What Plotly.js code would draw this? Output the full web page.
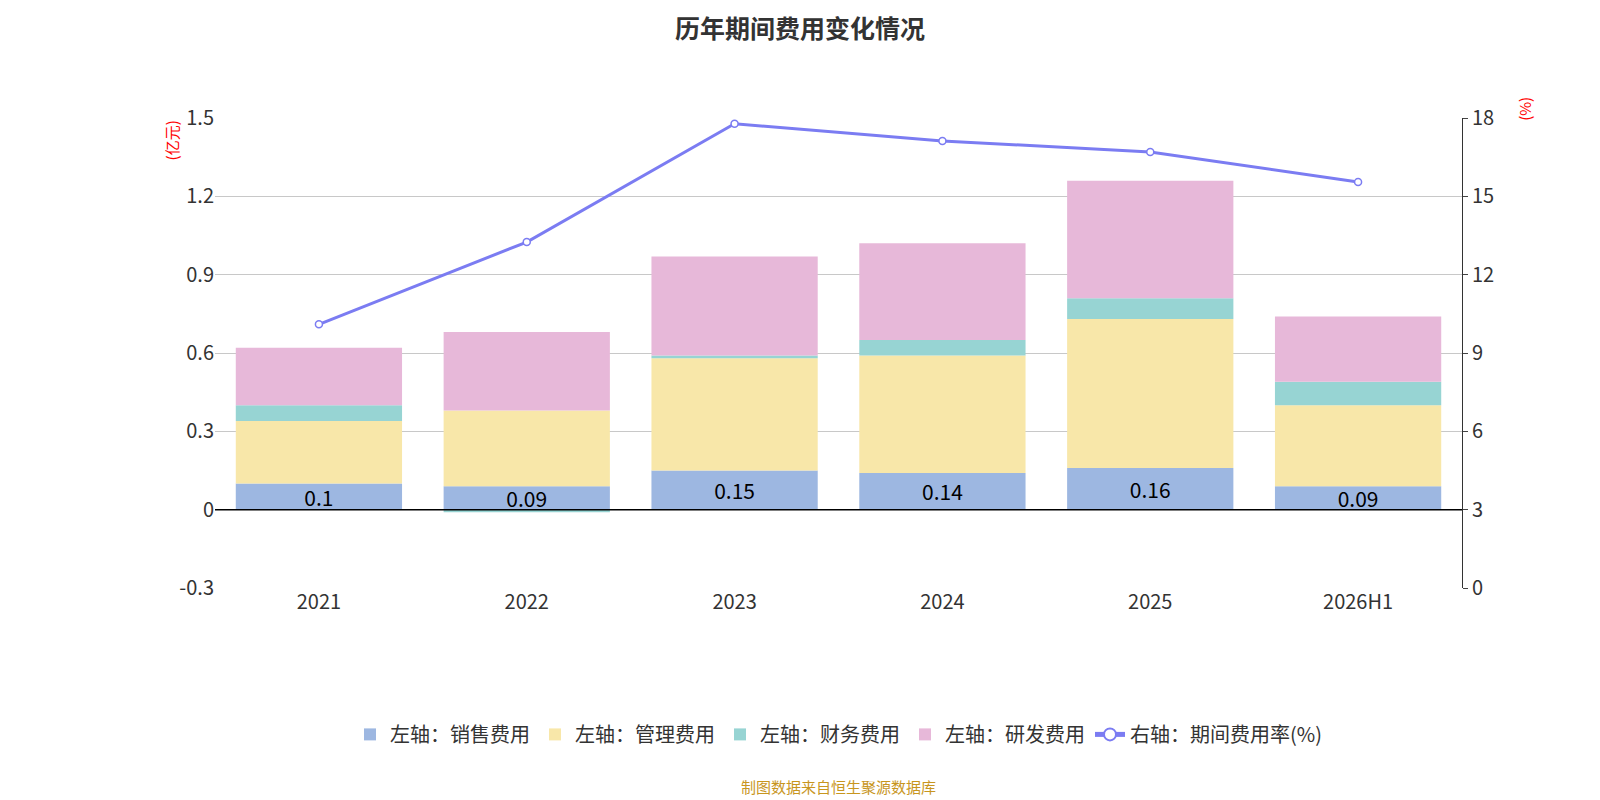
<!DOCTYPE html>
<html><head><meta charset="utf-8">
<script src="https://cdn.plot.ly/plotly-3.0.1.min.js"></script>
<style>body{margin:0}#c{width:1600px;height:800px}</style>
</head><body><div id="c"></div>
<script>
var years = ['2021', '2022', '2023', '2024', '2025', '2026H1'];
var sales = [0.10, 0.09, 0.15, 0.14, 0.16, 0.09];
var admin = [0.24, 0.29, 0.43, 0.45, 0.57, 0.31];
var finance = [0.06, -0.01, 0.01, 0.06, 0.08, 0.09];
var rnd = [0.22, 0.30, 0.38, 0.37, 0.45, 0.25];
var rate = [10.1, 13.25, 17.78, 17.12, 16.7, 15.55];

var font = 'Noto Sans CJK SC, Noto Sans, sans-serif';
function bar(name, y, color, withText) {
  var t = {type: 'bar', name: name, x: years, y: y, marker: {color: color}, width: 0.8, yaxis: 'y'};
  if (withText) {
    t.text = y.map(String);
    t.textposition = 'inside';
    t.insidetextanchor = 'middle';
    t.textangle = 0;
    t.constraintext = 'none';
    t.textfont = {size: 21, color: '#000'};
  }
  return t;
}
var data = [
  bar('左轴：销售费用', sales, '#9db7e1', true),
  bar('左轴：管理费用', admin, '#f8e7a9', false),
  bar('左轴：财务费用', finance, '#97d4d3', false),
  bar('左轴：研发费用', rnd, '#e7b8d9', false),
  {type: 'scatter', mode: 'lines+markers', name: '右轴：期间费用率(%)', x: years, y: rate, yaxis: 'y2',
   line: {color: '#7b7cf2', width: 3}, marker: {size: 7, color: '#fff', line: {color: '#7b7cf2', width: 1.5}}}
];
var layout = {
  width: 1600, height: 800,
  font: {family: font, size: 19, color: '#333'},
  title: {text: '<b>历年期间费用变化情况</b>', x: 0.5, y: 0.975, font: {size: 25, color: '#333'}},
  margin: {l: 215, r: 138, t: 118, b: 212},
  barmode: 'relative', bargap: 0.2,
  showlegend: true,
  legend: {orientation: 'h', x: 0.5, xanchor: 'center', y: -0.27, font: {size: 20}, itemsizing: 'constant'},
  xaxis: {type: 'category', showgrid: false, ticks: '', tickfont: {size: 20}},
  yaxis: {range: [-0.3, 1.5], gridcolor: '#c8c8c8', zeroline: false, tickfont: {size: 20},
          tickvals: [-0.3, 0, 0.3, 0.6, 0.9, 1.2, 1.5], ticktext: ['-0.3', '0', '0.3', '0.6', '0.9', '1.2', '1.5']},
  yaxis2: {range: [0, 18], dtick: 3, overlaying: 'y', side: 'right', showgrid: false, zeroline: false,
           showline: true, linecolor: '#333', ticks: 'outside', tickfont: {size: 20}},
  shapes: [{type: 'line', xref: 'paper', yref: 'y', x0: 0, x1: 1, y0: 0, y1: 0, line: {color: '#000', width: 1.5}}],
  annotations: [
    {text: '(亿元)', xref: 'paper', yref: 'paper', x: -0.045, y: 1.0, textangle: -90, showarrow: false, font: {size: 15, color: 'red'}, yanchor: 'top'},
    {text: '(%)', xref: 'paper', yref: 'paper', x: 1.06, y: 1.05, textangle: -90, showarrow: false, font: {size: 15, color: 'red'}},
    {text: '制图数据来自恒生聚源数据库', xref: 'paper', yref: 'paper', x: 0.5, y: -0.395, showarrow: false, font: {size: 15, color: '#c8961e'}, yanchor: 'top'}
  ]
};
Plotly.newPlot('c', data, layout, {displayModeBar: false});
</script></body></html>
